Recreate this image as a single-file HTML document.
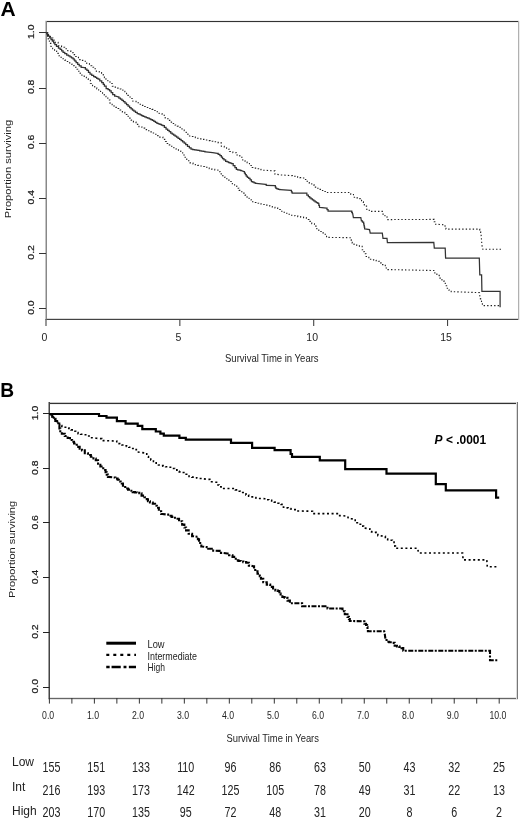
<!DOCTYPE html>
<html><head><meta charset="utf-8"><style>html,body{margin:0;padding:0;background:#fff;overflow:hidden}svg{display:block;will-change:transform}</style></head><body>
<svg width="520" height="820" viewBox="0 0 520 820">
<rect width="520" height="820" fill="#fff"/>
<text x="0.6" y="15.8" font-family='"Liberation Sans", sans-serif' font-weight="bold" font-size="21" fill="#000">A</text>
<rect x="45" y="21" width="474" height="1" fill="#333"/>
<rect x="45" y="20" width="474" height="1" fill="#f0f0f0"/>
<rect x="45" y="22" width="474" height="1" fill="#f0f0f0"/>
<rect x="45" y="319" width="474" height="1" fill="#444"/>
<rect x="45" y="318" width="474" height="1" fill="#d8d8d8"/>
<rect x="46" y="21" width="1" height="299" fill="#888"/>
<rect x="45" y="21" width="1" height="299" fill="#c4c4c4"/>
<rect x="518" y="21" width="1" height="299" fill="#b0b0b0"/>
<rect x="519" y="21" width="1" height="299" fill="#ececec"/>
<line x1="39" y1="308.5" x2="46" y2="308.5" stroke="#333" stroke-width="1"/>
<text transform="translate(34.0,307.60) rotate(-90) scale(1.04,0.97)" text-anchor="middle" font-family='"Liberation Sans", sans-serif' font-size="10" fill="#1e1e1e" stroke="#1e1e1e" stroke-width="0.25">0.0</text>
<line x1="39" y1="253.5" x2="46" y2="253.5" stroke="#333" stroke-width="1"/>
<text transform="translate(34.0,252.42) rotate(-90) scale(1.04,0.97)" text-anchor="middle" font-family='"Liberation Sans", sans-serif' font-size="10" fill="#1e1e1e" stroke="#1e1e1e" stroke-width="0.25">0.2</text>
<line x1="39" y1="198.5" x2="46" y2="198.5" stroke="#333" stroke-width="1"/>
<text transform="translate(34.0,197.24) rotate(-90) scale(1.04,0.97)" text-anchor="middle" font-family='"Liberation Sans", sans-serif' font-size="10" fill="#1e1e1e" stroke="#1e1e1e" stroke-width="0.25">0.4</text>
<line x1="39" y1="143.5" x2="46" y2="143.5" stroke="#333" stroke-width="1"/>
<text transform="translate(34.0,142.06) rotate(-90) scale(1.04,0.97)" text-anchor="middle" font-family='"Liberation Sans", sans-serif' font-size="10" fill="#1e1e1e" stroke="#1e1e1e" stroke-width="0.25">0.6</text>
<line x1="39" y1="88.5" x2="46" y2="88.5" stroke="#333" stroke-width="1"/>
<text transform="translate(34.0,86.88) rotate(-90) scale(1.04,0.97)" text-anchor="middle" font-family='"Liberation Sans", sans-serif' font-size="10" fill="#1e1e1e" stroke="#1e1e1e" stroke-width="0.25">0.8</text>
<line x1="39" y1="32.5" x2="46" y2="32.5" stroke="#333" stroke-width="1"/>
<text transform="translate(34.0,31.70) rotate(-90) scale(1.04,0.97)" text-anchor="middle" font-family='"Liberation Sans", sans-serif' font-size="10" fill="#1e1e1e" stroke="#1e1e1e" stroke-width="0.25">1.0</text>
<line x1="46.00" y1="319" x2="46.00" y2="326" stroke="#444" stroke-width="1.1"/>
<text x="44.50" y="341.3" text-anchor="middle" font-family='"Liberation Sans", sans-serif' font-size="10.5" fill="#1e1e1e">0</text>
<line x1="179.85" y1="319" x2="179.85" y2="326" stroke="#444" stroke-width="1.1"/>
<text x="178.35" y="341.3" text-anchor="middle" font-family='"Liberation Sans", sans-serif' font-size="10.5" fill="#1e1e1e">5</text>
<line x1="313.70" y1="319" x2="313.70" y2="326" stroke="#444" stroke-width="1.1"/>
<text x="312.20" y="341.3" text-anchor="middle" font-family='"Liberation Sans", sans-serif' font-size="10.5" fill="#1e1e1e">10</text>
<line x1="447.55" y1="319" x2="447.55" y2="326" stroke="#444" stroke-width="1.1"/>
<text x="446.05" y="341.3" text-anchor="middle" font-family='"Liberation Sans", sans-serif' font-size="10.5" fill="#1e1e1e">15</text>
<text x="271.8" y="362.4" text-anchor="middle" font-family='"Liberation Sans", sans-serif' font-size="11" fill="#1e1e1e" textLength="93.6" lengthAdjust="spacingAndGlyphs">Survival Time in Years</text>
<text transform="translate(11.3,169) rotate(-90)" text-anchor="middle" font-family='"Liberation Sans", sans-serif' font-size="9.8" fill="#1e1e1e" textLength="98.5" lengthAdjust="spacingAndGlyphs">Proportion surviving</text>
<polyline points="46.50,32.80 47.15,32.80 47.15,34.47 48.45,34.47 48.45,36.15 49.75,36.15 49.75,37.83 51.05,37.83 51.05,39.50 51.70,39.50 52.33,39.50 52.33,41.17 53.60,41.17 53.60,42.83 54.87,42.83 54.87,44.50 55.50,44.50 56.48,44.50 56.48,46.25 58.42,46.25 58.42,48.00 59.40,48.00 60.13,48.00 60.13,49.43 61.60,49.43 61.60,50.87 63.07,50.87 63.07,52.30 63.80,52.30 64.78,52.30 64.78,53.65 66.72,53.65 66.72,55.00 67.70,55.00 68.46,55.00 68.46,55.95 69.99,55.95 69.99,56.90 71.51,56.90 71.51,57.85 73.04,57.85 73.04,58.80 73.80,58.80 74.20,58.80 74.20,60.00 75.00,60.00 75.00,61.20 75.40,61.20 76.17,61.20 76.17,62.73 77.70,62.73 77.70,64.27 79.23,64.27 79.23,65.80 80.00,65.80 81.15,65.80 81.15,67.30 82.30,67.30 84.60,67.70 85.38,67.70 85.38,69.05 86.92,69.05 86.92,70.40 87.70,70.40 88.47,70.40 88.47,72.30 90.03,72.30 90.03,74.20 90.80,74.20 91.75,74.20 91.75,75.35 93.65,75.35 93.65,76.50 94.60,76.50 95.30,76.50 95.30,77.40 96.70,77.40 96.70,78.30 98.10,78.30 98.10,79.20 98.80,79.20 99.78,79.20 99.78,80.95 101.72,80.95 101.72,82.70 102.70,82.70 103.28,82.70 103.28,84.45 104.42,84.45 104.42,86.20 105.00,86.20 106.15,86.20 106.15,88.50 107.30,88.50 108.08,88.50 108.08,89.65 109.62,89.65 109.62,90.80 110.40,90.80 111.18,90.80 111.18,92.70 112.72,92.70 112.72,94.60 113.50,94.60 114.65,94.60 114.65,96.20 115.80,96.20 118.10,96.90 118.88,96.90 118.88,98.05 120.42,98.05 120.42,99.20 121.20,99.20 121.95,99.20 121.95,100.35 123.45,100.35 123.45,101.50 124.20,101.50 124.97,101.50 124.97,103.05 126.53,103.05 126.53,104.60 127.30,104.60 128.07,104.60 128.07,106.15 129.62,106.15 129.62,107.70 130.40,107.70 131.10,107.70 131.10,108.87 132.50,108.87 132.50,110.03 133.90,110.03 133.90,111.20 134.60,111.20 135.47,111.20 135.47,112.35 137.22,112.35 137.22,113.50 138.10,113.50 138.81,113.50 138.81,114.20 140.24,114.20 140.24,114.90 141.66,114.90 141.66,115.60 143.09,115.60 143.09,116.30 143.80,116.30 144.58,116.30 144.58,116.90 146.15,116.90 146.15,117.50 147.72,117.50 147.72,118.10 148.50,118.10 149.27,118.10 149.27,118.87 150.80,118.87 150.80,119.63 152.33,119.63 152.33,120.40 153.10,120.40 153.87,120.40 153.87,121.37 155.40,121.37 155.40,122.33 156.93,122.33 156.93,123.30 157.70,123.30 158.42,123.30 158.42,123.88 159.88,123.88 159.88,124.45 161.32,124.45 161.32,125.02 162.78,125.02 162.78,125.60 163.50,125.60 164.35,125.60 164.35,127.30 166.05,127.30 166.05,129.00 166.90,129.00 167.67,129.00 167.67,130.37 169.20,130.37 169.20,131.73 170.73,131.73 170.73,133.10 171.50,133.10 172.22,133.10 172.22,134.10 173.68,134.10 173.68,135.10 175.12,135.10 175.12,136.10 176.58,136.10 176.58,137.10 177.30,137.10 178.07,137.10 178.07,138.27 179.60,138.27 179.60,139.43 181.13,139.43 181.13,140.60 181.90,140.60 182.67,140.60 182.67,141.90 184.20,141.90 184.20,143.20 185.73,143.20 185.73,144.50 186.50,144.50 187.50,144.50 187.50,146.30 188.50,146.30 189.35,146.30 189.35,147.75 191.05,147.75 191.05,149.20 191.90,149.20 192.76,149.20 192.76,149.50 194.49,149.50 194.49,149.80 196.21,149.80 196.21,150.10 197.94,150.10 197.94,150.40 198.80,150.40 199.68,150.40 199.68,150.75 201.43,150.75 201.43,151.10 203.18,151.10 203.18,151.45 204.93,151.45 204.93,151.80 205.80,151.80 212.70,152.70 217.30,153.30 218.18,153.30 218.18,154.45 219.93,154.45 219.93,155.60 220.80,155.60 221.38,155.60 221.38,157.05 222.53,157.05 222.53,158.50 223.10,158.50 223.95,158.50 223.95,159.90 225.65,159.90 225.65,161.30 226.50,161.30 227.22,161.30 227.22,161.90 228.68,161.90 228.68,162.50 230.12,162.50 230.12,163.10 231.58,163.10 231.58,163.70 232.30,163.70 233.18,163.70 233.18,165.70 234.93,165.70 234.93,167.70 235.80,167.70 236.35,167.70 236.35,169.40 236.90,169.40 237.67,169.40 237.67,169.80 239.20,169.80 239.20,170.20 240.73,170.20 240.73,170.60 241.50,170.60 244.00,171.50 244.45,171.50 244.45,173.07 245.35,173.07 245.35,174.63 246.25,174.63 246.25,176.20 246.70,176.20 247.38,176.20 247.38,177.25 248.72,177.25 248.72,178.30 249.40,178.30 250.07,178.30 250.07,179.95 251.43,179.95 251.43,181.60 252.10,181.60 252.78,181.60 252.78,182.20 254.15,182.20 254.15,182.80 255.52,182.80 255.52,183.40 256.20,183.40 265.60,184.30 266.25,184.30 266.25,185.30 266.90,185.30 275.00,185.70 275.32,185.70 275.32,187.05 275.98,187.05 275.98,188.40 276.30,188.40 276.98,188.40 276.98,188.83 278.35,188.83 278.35,189.27 279.72,189.27 279.72,189.70 280.40,189.70 291.10,190.40 291.45,190.40 291.45,191.75 292.15,191.75 292.15,193.10 292.50,193.10 306.00,193.10 306.85,193.10 306.85,195.20 307.70,195.20 308.38,195.20 308.38,196.55 309.72,196.55 309.72,197.90 310.40,197.90 311.07,197.90 311.07,198.90 312.43,198.90 312.43,199.90 313.10,199.90 313.78,199.90 313.78,200.90 315.12,200.90 315.12,201.90 315.80,201.90 316.48,201.90 316.48,202.60 317.82,202.60 317.82,203.30 318.50,203.30 318.82,203.30 318.82,205.30 319.48,205.30 319.48,207.30 319.80,207.30 326.50,208.00 327.02,208.00 327.02,209.55 328.08,209.55 328.08,211.10 328.60,211.10 351.40,211.10 351.72,211.10 351.72,212.30 352.38,212.30 352.38,213.50 352.70,213.50 353.40,217.50 360.80,217.50 361.40,220.90 362.45,220.90 362.45,222.20 363.50,222.20 363.66,222.20 363.66,223.88 363.99,223.88 363.99,225.55 364.31,225.55 364.31,227.22 364.64,227.22 364.64,228.90 364.80,228.90 369.50,229.60 370.20,233.00 382.30,233.00 383.00,238.40 387.00,238.40 387.40,242.50 433.80,242.40 434.30,248.10 445.20,248.10 445.60,258.00 479.30,258.00 479.80,274.80 481.60,274.80 481.90,291.40 500.10,291.40 500.10,307.30" fill="none" stroke="#333" stroke-width="1.25"/>
<polyline points="46.50,32.80 47.80,32.80 47.80,35.40 50.40,35.40 50.40,38.00 51.70,38.00 52.85,38.00 52.85,40.10 55.15,40.10 55.15,42.20 56.30,42.20 58.15,42.20 58.15,45.80 60.00,45.80 61.55,45.80 61.55,47.30 64.65,47.30 64.65,48.80 66.20,48.80 67.72,48.80 67.72,50.75 70.78,50.75 70.78,52.70 72.30,52.70 73.45,52.70 73.45,54.60 75.75,54.60 75.75,56.50 76.90,56.50 78.45,56.50 78.45,59.60 80.00,59.60 81.35,59.60 81.35,60.40 84.05,60.40 84.05,61.20 85.40,61.20 86.75,61.20 86.75,63.50 89.45,63.50 89.45,65.80 90.80,65.80 91.75,65.80 91.75,67.30 93.65,67.30 93.65,68.80 94.60,68.80 96.35,68.80 96.35,71.50 98.10,71.50 99.25,71.50 99.25,72.65 101.55,72.65 101.55,73.80 102.70,73.80 103.28,73.80 103.28,75.75 104.42,75.75 104.42,77.70 105.00,77.70 105.95,77.70 105.95,79.25 107.85,79.25 107.85,80.80 108.80,80.80 109.97,80.80 109.97,83.50 112.33,83.50 112.33,86.20 113.50,86.20 114.65,86.20 114.65,87.15 116.95,87.15 116.95,88.10 118.10,88.10 119.05,88.10 119.05,89.05 120.95,89.05 120.95,90.00 121.90,90.00 122.88,90.00 122.88,91.35 124.83,91.35 124.83,92.70 125.80,92.70 126.55,92.70 126.55,95.40 127.30,95.40 128.28,95.40 128.28,96.95 130.22,96.95 130.22,98.50 131.20,98.50 132.90,98.50 132.90,101.30 134.60,101.30 136.05,101.30 136.05,102.75 138.95,102.75 138.95,104.20 140.40,104.20 141.85,104.20 141.85,105.35 144.75,105.35 144.75,106.50 146.20,106.50 147.35,106.50 147.35,107.47 149.65,107.47 149.65,108.43 151.95,108.43 151.95,109.40 153.10,109.40 154.25,109.40 154.25,110.55 156.55,110.55 156.55,111.70 157.70,111.70 159.15,111.70 159.15,113.45 162.05,113.45 162.05,115.20 163.50,115.20 165.20,115.20 165.20,118.70 166.90,118.70 168.05,118.70 168.05,120.40 170.35,120.40 170.35,122.10 171.50,122.10 172.68,122.10 172.68,123.55 175.02,123.55 175.02,125.00 176.20,125.00 177.35,125.00 177.35,126.15 179.65,126.15 179.65,127.30 180.80,127.30 181.95,127.30 181.95,129.05 184.25,129.05 184.25,130.80 185.40,130.80 186.20,132.50 187.90,132.50 187.90,136.00 189.60,136.00 190.75,136.00 190.75,136.57 193.05,136.57 193.05,137.13 195.35,137.13 195.35,137.70 196.50,137.70 197.67,137.70 197.67,138.27 200.00,138.27 200.00,138.83 202.33,138.83 202.33,139.40 203.50,139.40 204.83,139.40 204.83,140.00 207.50,140.00 207.50,140.60 210.17,140.60 210.17,141.20 211.50,141.20 212.85,141.20 212.85,141.77 215.55,141.77 215.55,142.33 218.25,142.33 218.25,142.90 219.60,142.90 221.35,142.90 221.35,146.30 223.10,146.30 224.25,146.30 224.25,147.75 226.55,147.75 226.55,149.20 227.70,149.20 229.45,149.20 229.45,151.50 231.20,151.50 232.90,151.50 232.90,152.70 234.60,152.70 236.35,152.70 236.35,155.00 238.10,155.00 239.80,155.00 239.80,157.30 241.50,157.30 242.75,157.30 242.75,160.80 244.00,160.80 245.03,160.80 245.03,162.15 247.07,162.15 247.07,163.50 248.10,163.50 249.45,163.50 249.45,165.50 252.15,165.50 252.15,167.50 253.50,167.50 254.50,167.50 254.50,168.15 256.50,168.15 256.50,168.80 257.50,168.80 258.62,168.80 258.62,169.27 260.85,169.27 260.85,169.73 263.08,169.73 263.08,170.20 264.20,170.20 273.60,170.90 274.95,170.90 274.95,174.20 276.30,174.20 280.40,174.90 291.10,175.60 292.45,175.60 292.45,176.25 295.15,176.25 295.15,176.90 296.50,176.90 297.63,176.90 297.63,177.27 299.90,177.27 299.90,177.63 302.17,177.63 302.17,178.00 303.30,178.00 304.65,178.00 304.65,179.50 306.00,179.50 307.10,179.50 307.10,181.30 309.30,181.30 309.30,183.10 310.40,183.10 311.75,183.10 311.75,185.10 314.45,185.10 314.45,187.10 315.80,187.10 316.92,187.10 316.92,188.23 319.15,188.23 319.15,189.37 321.38,189.37 321.38,190.50 322.50,190.50 323.85,190.50 323.85,191.50 326.55,191.50 326.55,192.50 327.90,192.50 349.40,192.50 350.75,192.50 350.75,194.50 352.10,194.50 353.45,194.50 353.45,197.20 354.80,197.20 356.15,197.20 356.15,197.90 358.85,197.90 358.85,198.60 360.20,198.60 361.55,198.60 361.55,201.90 362.90,201.90 363.38,201.90 363.38,204.00 364.32,204.00 364.32,206.10 364.80,206.10 366.55,206.10 366.55,209.30 368.30,209.30 369.25,209.30 369.25,211.40 370.20,211.40 382.30,211.40 382.95,211.40 382.95,214.10 383.60,214.10 384.95,214.10 384.95,216.80 386.30,216.80 387.00,216.80 387.00,219.60 387.70,219.60 433.80,219.40 434.15,219.40 434.15,221.80 434.85,221.80 434.85,224.20 435.20,224.20 444.60,224.80 445.05,224.80 445.05,226.95 445.95,226.95 445.95,229.10 446.40,229.10 479.30,229.10 479.75,229.10 479.75,231.85 480.65,231.85 480.65,234.60 481.10,234.60 481.90,245.00 482.80,249.30 501.20,249.30" fill="none" stroke="#222" stroke-width="1.1" stroke-dasharray="1.4 2.1"/>
<polyline points="46.50,32.80 46.85,32.80 46.85,35.30 47.55,35.30 47.55,37.80 48.25,37.80 48.25,40.30 48.60,40.30 49.38,40.30 49.38,43.40 50.93,43.40 50.93,46.50 51.70,46.50 52.65,46.50 52.65,48.75 54.55,48.75 54.55,51.00 55.50,51.00 56.62,51.00 56.62,53.40 58.88,53.40 58.88,55.80 60.00,55.80 60.95,55.80 60.95,57.30 62.85,57.30 62.85,58.80 63.80,58.80 64.78,58.80 64.78,60.15 66.72,60.15 66.72,61.50 67.70,61.50 68.65,61.50 68.65,62.85 70.55,62.85 70.55,64.20 71.50,64.20 72.47,64.20 72.47,65.75 74.43,65.75 74.43,67.30 75.40,67.30 76.18,67.30 76.18,69.25 77.72,69.25 77.72,71.20 78.50,71.20 79.08,71.20 79.08,73.10 80.22,73.10 80.22,75.00 80.80,75.00 81.95,75.00 81.95,76.15 84.25,76.15 84.25,77.30 85.40,77.30 86.35,77.30 86.35,78.85 88.25,78.85 88.25,80.40 89.20,80.40 90.35,80.40 90.35,83.50 91.50,83.50 92.58,83.50 92.58,85.60 94.72,85.60 94.72,87.70 95.80,87.70 96.75,87.70 96.75,88.85 98.65,88.85 98.65,90.00 99.60,90.00 100.57,90.00 100.57,91.55 102.53,91.55 102.53,93.10 103.50,93.10 104.25,93.10 104.25,96.20 105.00,96.20 105.95,96.20 105.95,98.10 107.85,98.10 107.85,100.00 108.80,100.00 110.00,100.00 110.00,103.10 111.20,103.10 112.15,103.10 112.15,104.65 114.05,104.65 114.05,106.20 115.00,106.20 115.95,106.20 115.95,107.35 117.85,107.35 117.85,108.50 118.80,108.50 120.00,108.50 120.00,110.00 121.20,110.00 122.40,110.00 122.40,112.25 124.80,112.25 124.80,114.50 126.00,114.50 127.00,114.50 127.00,116.30 129.00,116.30 129.00,118.10 130.00,118.10 131.15,118.10 131.15,120.10 133.45,120.10 133.45,122.10 134.60,122.10 136.05,122.10 136.05,124.40 138.95,124.40 138.95,126.70 140.40,126.70 141.85,126.70 141.85,128.15 144.75,128.15 144.75,129.60 146.20,129.60 147.35,129.60 147.35,130.75 149.65,130.75 149.65,131.90 150.80,131.90 151.95,131.90 151.95,133.05 154.25,133.05 154.25,134.20 155.40,134.20 156.85,134.20 156.85,135.65 159.75,135.65 159.75,137.10 161.20,137.10 162.90,137.10 162.90,139.40 164.60,139.40 165.47,139.40 165.47,141.45 167.22,141.45 167.22,143.50 168.10,143.50 169.25,143.50 169.25,144.90 171.55,144.90 171.55,146.30 172.70,146.30 173.85,146.30 173.85,147.75 176.15,147.75 176.15,149.20 177.30,149.20 178.45,149.20 178.45,150.95 180.75,150.95 180.75,152.70 181.90,152.70 182.68,152.70 182.68,155.00 184.22,155.00 184.22,157.30 185.00,157.30 186.75,157.30 186.75,160.80 188.50,160.80 190.20,160.80 190.20,163.10 191.90,163.10 193.05,163.10 193.05,163.95 195.35,163.95 195.35,164.80 196.50,164.80 197.67,164.80 197.67,165.37 200.00,165.37 200.00,165.93 202.33,165.93 202.33,166.50 203.50,166.50 204.65,166.50 204.65,167.27 206.95,167.27 206.95,168.03 209.25,168.03 209.25,168.80 210.40,168.80 211.85,168.80 211.85,169.40 214.75,169.40 214.75,170.00 216.20,170.00 217.90,170.00 217.90,171.70 219.60,171.70 220.18,171.70 220.18,173.75 221.32,173.75 221.32,175.80 221.90,175.80 223.05,175.80 223.05,177.25 225.35,177.25 225.35,178.70 226.50,178.70 227.68,178.70 227.68,180.10 230.02,180.10 230.02,181.50 231.20,181.50 232.35,181.50 232.35,183.80 233.50,183.80 234.58,183.80 234.58,186.00 236.75,186.00 236.75,188.20 238.92,188.20 238.92,190.40 240.00,190.40 241.00,190.40 241.00,191.75 243.00,191.75 243.00,193.10 244.00,193.10 245.03,193.10 245.03,195.10 247.07,195.10 247.07,197.10 248.10,197.10 249.10,197.10 249.10,199.45 251.10,199.45 251.10,201.80 252.10,201.80 253.45,201.80 253.45,202.50 256.15,202.50 256.15,203.20 257.50,203.20 258.62,203.20 258.62,203.63 260.85,203.63 260.85,204.07 263.08,204.07 263.08,204.50 264.20,204.50 265.33,204.50 265.33,205.17 267.60,205.17 267.60,205.83 269.87,205.83 269.87,206.50 271.00,206.50 272.32,206.50 272.32,207.20 274.98,207.20 274.98,207.90 276.30,207.90 277.65,207.90 277.65,209.55 280.35,209.55 280.35,211.20 281.70,211.20 282.88,211.20 282.88,212.22 285.23,212.22 285.23,213.25 287.57,213.25 287.57,214.28 289.93,214.28 289.93,215.30 291.10,215.30 292.45,215.30 292.45,215.73 295.15,215.73 295.15,216.17 297.85,216.17 297.85,216.60 299.20,216.60 300.65,216.60 300.65,217.10 303.55,217.10 303.55,217.60 305.00,217.60 306.35,217.60 306.35,219.50 309.05,219.50 309.05,221.40 310.40,221.40 311.75,221.40 311.75,223.75 314.45,223.75 314.45,226.10 315.80,226.10 316.80,226.10 316.80,228.80 318.80,228.80 318.80,231.50 319.80,231.50 321.15,231.50 321.15,232.85 323.85,232.85 323.85,234.20 325.20,234.20 326.55,234.20 326.55,237.40 327.90,237.40 350.80,237.70 351.27,237.70 351.27,240.40 352.23,240.40 352.23,243.10 352.70,243.10 354.05,243.10 354.05,245.10 355.40,245.10 356.75,245.10 356.75,245.75 359.45,245.75 359.45,246.40 360.80,246.40 362.15,246.40 362.15,249.80 363.50,249.80 363.82,249.80 363.82,251.80 364.48,251.80 364.48,253.80 364.80,253.80 366.15,253.80 366.15,256.50 367.50,256.50 368.85,256.50 368.85,259.20 370.20,259.20 371.38,259.20 371.38,259.70 373.73,259.70 373.73,260.20 376.07,260.20 376.07,260.70 378.43,260.70 378.43,261.20 379.60,261.20 380.60,261.20 380.60,262.90 382.60,262.90 382.60,264.60 383.60,264.60 385.30,264.60 385.30,268.00 387.00,268.00 388.00,268.00 388.00,269.60 389.00,269.60 433.80,270.50 434.82,270.50 434.82,272.95 436.88,272.95 436.88,275.40 437.90,275.40 439.25,275.40 439.25,278.10 441.95,278.10 441.95,280.80 443.30,280.80 443.97,280.80 443.97,283.30 445.30,283.30 445.30,285.80 446.63,285.80 446.63,288.30 447.30,288.30 448.60,288.30 448.60,290.00 451.20,290.00 451.20,291.70 452.50,291.70 479.30,292.60 480.20,298.60 480.63,298.60 480.63,300.93 481.50,300.93 481.50,303.27 482.37,303.27 482.37,305.60 482.80,305.60 499.80,305.60" fill="none" stroke="#222" stroke-width="1.1" stroke-dasharray="1.4 2.1"/>
<text x="0" y="0" transform="translate(0.3,396.7) scale(0.96,1.05)" font-family='"Liberation Sans", sans-serif' font-weight="bold" font-size="20" fill="#000">B</text>
<rect x="48" y="403" width="470" height="1" fill="#333"/>
<rect x="48" y="402" width="470" height="1" fill="#c8c8c8"/>
<rect x="48" y="404" width="470" height="1" fill="#f0f0f0"/>
<rect x="48" y="698" width="470" height="1" fill="#666"/>
<rect x="48" y="697" width="470" height="1" fill="#e4e4e4"/>
<rect x="48" y="699" width="470" height="1" fill="#e4e4e4"/>
<rect x="49" y="402" width="1" height="297" fill="#444"/>
<rect x="48" y="402" width="1" height="297" fill="#a0a0a0"/>
<rect x="517" y="402" width="1" height="297" fill="#777"/>
<rect x="516" y="402" width="1" height="297" fill="#dcdcdc"/>
<line x1="43" y1="687.5" x2="49.5" y2="687.5" stroke="#222" stroke-width="1"/>
<text transform="translate(37.7,686.30) rotate(-90) scale(1.04,0.97)" text-anchor="middle" font-family='"Liberation Sans", sans-serif' font-size="10" fill="#1e1e1e" stroke="#1e1e1e" stroke-width="0.25">0.0</text>
<line x1="43" y1="632.5" x2="49.5" y2="632.5" stroke="#222" stroke-width="1"/>
<text transform="translate(37.7,631.64) rotate(-90) scale(1.04,0.97)" text-anchor="middle" font-family='"Liberation Sans", sans-serif' font-size="10" fill="#1e1e1e" stroke="#1e1e1e" stroke-width="0.25">0.2</text>
<line x1="43" y1="577.5" x2="49.5" y2="577.5" stroke="#222" stroke-width="1"/>
<text transform="translate(37.7,576.98) rotate(-90) scale(1.04,0.97)" text-anchor="middle" font-family='"Liberation Sans", sans-serif' font-size="10" fill="#1e1e1e" stroke="#1e1e1e" stroke-width="0.25">0.4</text>
<line x1="43" y1="522.5" x2="49.5" y2="522.5" stroke="#222" stroke-width="1"/>
<text transform="translate(37.7,522.32) rotate(-90) scale(1.04,0.97)" text-anchor="middle" font-family='"Liberation Sans", sans-serif' font-size="10" fill="#1e1e1e" stroke="#1e1e1e" stroke-width="0.25">0.6</text>
<line x1="43" y1="468.5" x2="49.5" y2="468.5" stroke="#222" stroke-width="1"/>
<text transform="translate(37.7,467.66) rotate(-90) scale(1.04,0.97)" text-anchor="middle" font-family='"Liberation Sans", sans-serif' font-size="10" fill="#1e1e1e" stroke="#1e1e1e" stroke-width="0.25">0.8</text>
<line x1="43" y1="413.5" x2="49.5" y2="413.5" stroke="#222" stroke-width="1"/>
<text transform="translate(37.7,413.00) rotate(-90) scale(1.04,0.97)" text-anchor="middle" font-family='"Liberation Sans", sans-serif' font-size="10" fill="#1e1e1e" stroke="#1e1e1e" stroke-width="0.25">1.0</text>
<line x1="49.40" y1="698" x2="49.40" y2="703.6" stroke="#333" stroke-width="1"/>
<text x="48.10" y="719.5" text-anchor="middle" font-family='"Liberation Sans", sans-serif' font-size="10" fill="#1e1e1e" transform="translate(48.10,0) scale(0.87,1) translate(-48.10,0)">0.0</text>
<line x1="71.89" y1="698" x2="71.89" y2="703.6" stroke="#333" stroke-width="1"/>
<line x1="94.38" y1="698" x2="94.38" y2="703.6" stroke="#333" stroke-width="1"/>
<text x="93.08" y="719.5" text-anchor="middle" font-family='"Liberation Sans", sans-serif' font-size="10" fill="#1e1e1e" transform="translate(93.08,0) scale(0.87,1) translate(-93.08,0)">1.0</text>
<line x1="116.87" y1="698" x2="116.87" y2="703.6" stroke="#333" stroke-width="1"/>
<line x1="139.36" y1="698" x2="139.36" y2="703.6" stroke="#333" stroke-width="1"/>
<text x="138.06" y="719.5" text-anchor="middle" font-family='"Liberation Sans", sans-serif' font-size="10" fill="#1e1e1e" transform="translate(138.06,0) scale(0.87,1) translate(-138.06,0)">2.0</text>
<line x1="161.85" y1="698" x2="161.85" y2="703.6" stroke="#333" stroke-width="1"/>
<line x1="184.34" y1="698" x2="184.34" y2="703.6" stroke="#333" stroke-width="1"/>
<text x="183.04" y="719.5" text-anchor="middle" font-family='"Liberation Sans", sans-serif' font-size="10" fill="#1e1e1e" transform="translate(183.04,0) scale(0.87,1) translate(-183.04,0)">3.0</text>
<line x1="206.83" y1="698" x2="206.83" y2="703.6" stroke="#333" stroke-width="1"/>
<line x1="229.32" y1="698" x2="229.32" y2="703.6" stroke="#333" stroke-width="1"/>
<text x="228.02" y="719.5" text-anchor="middle" font-family='"Liberation Sans", sans-serif' font-size="10" fill="#1e1e1e" transform="translate(228.02,0) scale(0.87,1) translate(-228.02,0)">4.0</text>
<line x1="251.81" y1="698" x2="251.81" y2="703.6" stroke="#333" stroke-width="1"/>
<line x1="274.30" y1="698" x2="274.30" y2="703.6" stroke="#333" stroke-width="1"/>
<text x="273.00" y="719.5" text-anchor="middle" font-family='"Liberation Sans", sans-serif' font-size="10" fill="#1e1e1e" transform="translate(273.00,0) scale(0.87,1) translate(-273.00,0)">5.0</text>
<line x1="296.79" y1="698" x2="296.79" y2="703.6" stroke="#333" stroke-width="1"/>
<line x1="319.28" y1="698" x2="319.28" y2="703.6" stroke="#333" stroke-width="1"/>
<text x="317.98" y="719.5" text-anchor="middle" font-family='"Liberation Sans", sans-serif' font-size="10" fill="#1e1e1e" transform="translate(317.98,0) scale(0.87,1) translate(-317.98,0)">6.0</text>
<line x1="341.77" y1="698" x2="341.77" y2="703.6" stroke="#333" stroke-width="1"/>
<line x1="364.26" y1="698" x2="364.26" y2="703.6" stroke="#333" stroke-width="1"/>
<text x="362.96" y="719.5" text-anchor="middle" font-family='"Liberation Sans", sans-serif' font-size="10" fill="#1e1e1e" transform="translate(362.96,0) scale(0.87,1) translate(-362.96,0)">7.0</text>
<line x1="386.75" y1="698" x2="386.75" y2="703.6" stroke="#333" stroke-width="1"/>
<line x1="409.24" y1="698" x2="409.24" y2="703.6" stroke="#333" stroke-width="1"/>
<text x="407.94" y="719.5" text-anchor="middle" font-family='"Liberation Sans", sans-serif' font-size="10" fill="#1e1e1e" transform="translate(407.94,0) scale(0.87,1) translate(-407.94,0)">8.0</text>
<line x1="431.73" y1="698" x2="431.73" y2="703.6" stroke="#333" stroke-width="1"/>
<line x1="454.22" y1="698" x2="454.22" y2="703.6" stroke="#333" stroke-width="1"/>
<text x="452.92" y="719.5" text-anchor="middle" font-family='"Liberation Sans", sans-serif' font-size="10" fill="#1e1e1e" transform="translate(452.92,0) scale(0.87,1) translate(-452.92,0)">9.0</text>
<line x1="476.71" y1="698" x2="476.71" y2="703.6" stroke="#333" stroke-width="1"/>
<line x1="499.20" y1="698" x2="499.20" y2="703.6" stroke="#333" stroke-width="1"/>
<text x="497.90" y="719.5" text-anchor="middle" font-family='"Liberation Sans", sans-serif' font-size="10" fill="#1e1e1e" transform="translate(497.90,0) scale(0.87,1) translate(-497.90,0)">10.0</text>
<text x="272.7" y="741.5" text-anchor="middle" font-family='"Liberation Sans", sans-serif' font-size="11" fill="#1e1e1e" textLength="92.5" lengthAdjust="spacingAndGlyphs">Survival Time in Years</text>
<text transform="translate(15.1,549.5) rotate(-90)" text-anchor="middle" font-family='"Liberation Sans", sans-serif' font-size="9.8" fill="#1e1e1e" textLength="97.2" lengthAdjust="spacingAndGlyphs">Proportion surviving</text>
<text x="434.6" y="443.8" font-family='"Liberation Sans", sans-serif' font-weight="bold" font-size="12" fill="#000" textLength="51.6" lengthAdjust="spacingAndGlyphs"><tspan font-style="italic">P</tspan> &lt; .0001</text>
<polyline points="49.60,414.00 99.00,414.00 99.00,416.00 106.50,416.00 106.50,417.70 116.90,417.70 116.90,421.20 125.60,421.20 125.60,423.70 137.70,423.70 137.70,425.80 142.30,425.80 142.30,429.20 155.80,429.20 155.80,431.50 160.40,431.50 160.40,433.60 163.80,433.60 163.80,435.60 179.40,435.60 179.40,437.90 185.80,437.90 185.80,439.70 231.00,439.70 231.00,442.90 252.10,442.90 252.10,447.90 274.60,447.90 274.60,450.20 290.60,450.20 290.60,454.00 292.00,454.00 292.00,456.90 319.80,456.90 319.80,460.40 345.20,460.40 345.20,469.20 386.50,469.20 386.50,473.60 435.80,473.60 435.80,484.20 445.80,484.20 445.80,490.40 496.10,490.40 496.10,497.60 499.20,497.60" fill="none" stroke="#000" stroke-width="2.2"/>
<polyline points="49.60,414.00 51.50,414.60 52.35,414.60 52.35,416.90 54.05,416.90 54.05,419.20 54.90,419.20 55.77,419.20 55.77,421.25 57.52,421.25 57.52,423.30 58.40,423.30 59.55,423.30 59.55,425.60 60.70,425.60 61.85,425.60 61.85,426.45 64.15,426.45 64.15,427.30 65.30,427.30 66.45,427.30 66.45,427.90 68.75,427.90 68.75,428.50 69.90,428.50 71.05,428.50 71.05,429.90 73.35,429.90 73.35,431.30 74.50,431.30 75.67,431.30 75.67,432.50 78.03,432.50 78.03,433.70 79.20,433.70 80.62,433.70 80.62,434.25 83.48,434.25 83.48,434.80 84.90,434.80 86.65,434.80 86.65,436.00 88.40,436.00 90.10,436.00 90.10,437.70 91.80,437.70 96.50,438.30 100.00,438.60 101.75,438.60 101.75,440.60 103.50,440.60 115.00,441.00 116.75,441.00 116.75,443.60 118.50,443.60 119.65,443.60 119.65,444.30 121.95,444.30 121.95,445.00 123.10,445.00 124.25,445.00 124.25,445.77 126.55,445.77 126.55,446.53 128.85,446.53 128.85,447.30 130.00,447.30 131.45,447.30 131.45,448.45 134.35,448.45 134.35,449.60 135.80,449.60 136.35,449.60 136.35,451.90 136.90,451.90 141.50,452.50 146.20,453.10 146.75,453.10 146.75,456.50 147.30,456.50 148.45,456.50 148.45,458.25 150.75,458.25 150.75,460.00 151.90,460.00 153.45,460.00 153.45,461.50 155.00,461.50 156.15,461.50 156.15,463.25 158.45,463.25 158.45,465.00 159.60,465.00 160.75,465.00 160.75,465.60 163.05,465.60 163.05,466.20 164.20,466.20 165.65,466.20 165.65,466.75 168.55,466.75 168.55,467.30 170.00,467.30 171.75,467.30 171.75,468.50 173.50,468.50 174.65,468.50 174.65,469.90 176.95,469.90 176.95,471.30 178.10,471.30 179.25,471.30 179.25,471.90 181.55,471.90 181.55,472.50 182.70,472.50 183.85,472.50 183.85,473.35 186.15,473.35 186.15,474.20 187.30,474.20 189.05,474.20 189.05,476.50 190.80,476.50 191.95,476.50 191.95,477.10 194.25,477.10 194.25,477.70 195.40,477.70 196.75,477.70 196.75,478.07 199.45,478.07 199.45,478.43 202.15,478.43 202.15,478.80 203.50,478.80 208.10,479.40 209.80,479.40 209.80,481.70 211.50,481.70 215.00,482.30 216.55,482.30 216.55,485.00 218.10,485.00 219.10,485.00 219.10,486.75 221.10,486.75 221.10,488.50 222.10,488.50 234.20,488.50 235.35,488.50 235.35,489.90 237.65,489.90 237.65,491.30 238.80,491.30 240.25,491.30 240.25,492.50 243.15,492.50 243.15,493.70 244.60,493.70 245.95,493.70 245.95,495.00 248.65,495.00 248.65,496.30 250.00,496.30 251.15,496.30 251.15,496.90 253.45,496.90 253.45,497.50 254.60,497.50 255.75,497.50 255.75,498.00 258.05,498.00 258.05,498.50 259.20,498.50 265.00,498.70 266.15,498.70 266.15,499.80 267.30,499.80 268.75,499.80 268.75,500.40 271.65,500.40 271.65,501.00 273.10,501.00 274.25,501.00 274.25,502.15 276.55,502.15 276.55,503.30 277.70,503.30 278.85,503.30 278.85,503.85 281.15,503.85 281.15,504.40 282.30,504.40 283.45,504.40 283.45,507.30 284.60,507.30 285.75,507.30 285.75,507.90 288.05,507.90 288.05,508.50 289.20,508.50 290.65,508.50 290.65,509.05 293.55,509.05 293.55,509.60 295.00,509.60 296.75,509.60 296.75,511.00 298.50,511.00 311.90,511.20 312.50,511.20 312.50,513.60 313.10,513.60 338.50,513.60 339.65,513.60 339.65,515.60 340.80,515.60 347.70,516.20 348.30,518.50 354.60,519.00 355.20,519.00 355.20,521.30 355.80,521.30 356.95,521.30 356.95,522.75 359.25,522.75 359.25,524.20 360.40,524.20 361.45,524.20 361.45,526.15 363.55,526.15 363.55,528.10 364.60,528.10 369.20,528.70 369.80,528.70 369.80,531.50 370.40,531.50 371.55,531.50 371.55,531.90 373.85,531.90 373.85,532.30 376.15,532.30 376.15,532.70 377.30,532.70 377.90,532.70 377.90,535.60 378.50,535.60 384.20,536.20 385.35,536.20 385.35,539.00 386.50,539.00 387.67,539.00 387.67,539.60 390.00,539.60 390.00,540.20 392.33,540.20 392.33,540.80 393.50,540.80 394.05,540.80 394.05,544.20 394.60,544.20 394.90,544.20 394.90,546.25 395.50,546.25 395.50,548.30 395.80,548.30 417.70,548.30 418.50,553.00 462.60,553.00 463.10,559.90 486.80,559.90 487.30,566.80 497.20,566.80" fill="none" stroke="#000" stroke-width="1.6" stroke-dasharray="2 2.6"/>
<polyline points="49.60,414.00 51.50,414.60 52.27,414.60 52.27,416.73 53.80,416.73 53.80,418.87 55.33,418.87 55.33,421.00 56.10,421.00 56.83,421.00 56.83,423.30 58.27,423.30 58.27,425.60 59.00,425.60 59.42,425.60 59.42,428.45 60.28,428.45 60.28,431.30 60.70,431.30 61.85,431.30 61.85,433.70 63.00,433.70 64.75,433.70 64.75,436.00 66.50,436.00 67.65,436.00 67.65,438.00 69.95,438.00 69.95,440.00 71.10,440.00 72.07,440.00 72.07,441.75 74.03,441.75 74.03,443.50 75.00,443.50 76.75,443.50 76.75,446.90 78.50,446.90 79.65,446.90 79.65,448.65 81.95,448.65 81.95,450.40 83.10,450.40 84.80,450.40 84.80,453.30 86.50,453.30 87.95,453.30 87.95,455.00 90.85,455.00 90.85,456.70 92.30,456.70 93.45,456.70 93.45,458.45 95.75,458.45 95.75,460.20 96.90,460.20 98.05,460.20 98.05,463.70 99.20,463.70 100.35,463.70 100.35,466.50 101.50,466.50 103.25,466.50 103.25,470.00 105.00,470.00 105.58,470.00 105.58,472.30 106.72,472.30 106.72,474.60 107.30,474.60 107.90,474.60 107.90,476.90 108.50,476.90 114.20,477.50 115.35,477.50 115.35,478.65 117.65,478.65 117.65,479.80 118.80,479.80 120.00,479.80 120.00,481.50 121.20,481.50 121.78,481.50 121.78,483.55 122.92,483.55 122.92,485.60 123.50,485.60 125.20,485.60 125.20,488.50 126.90,488.50 128.05,488.50 128.05,489.65 130.35,489.65 130.35,490.80 131.50,490.80 132.65,490.80 132.65,492.10 133.80,492.10 134.90,492.10 134.90,492.50 137.10,492.50 137.10,492.90 139.30,492.90 139.30,493.30 140.40,493.30 141.55,493.30 141.55,495.60 142.70,495.60 144.45,495.60 144.45,497.30 146.20,497.30 146.77,497.30 146.77,499.30 147.93,499.30 147.93,501.30 148.50,501.30 149.93,501.30 149.93,502.50 152.77,502.50 152.77,503.70 154.20,503.70 155.07,503.70 155.07,505.70 156.82,505.70 156.82,507.70 157.70,507.70 158.85,507.70 158.85,511.20 160.00,511.20 161.15,511.20 161.15,514.00 162.30,514.00 168.10,514.60 169.25,514.60 169.25,515.75 171.55,515.75 171.55,516.90 172.70,516.90 173.85,516.90 173.85,517.80 176.15,517.80 176.15,518.70 177.30,518.70 179.05,518.70 179.05,521.20 180.80,521.20 182.15,521.20 182.15,524.60 183.50,524.60 184.35,524.60 184.35,527.50 186.05,527.50 186.05,530.40 186.90,530.40 188.65,530.40 188.65,533.80 190.40,533.80 192.10,533.80 192.10,536.20 193.80,536.20 197.30,536.70 197.88,536.70 197.88,539.30 199.03,539.30 199.03,541.90 199.60,541.90 200.18,541.90 200.18,544.20 201.32,544.20 201.32,546.50 201.90,546.50 206.50,547.10 208.25,547.10 208.25,548.80 210.00,548.80 211.75,548.80 211.75,550.60 213.50,550.60 219.20,550.90 220.95,550.90 220.95,552.90 222.70,552.90 227.30,553.50 229.05,553.50 229.05,555.20 230.80,555.20 232.50,555.20 232.50,556.90 234.20,556.90 235.75,556.90 235.75,560.40 237.30,560.40 238.45,560.40 238.45,560.95 240.75,560.95 240.75,561.50 241.90,561.50 243.35,561.50 243.35,562.10 246.25,562.10 246.25,562.70 247.70,562.70 248.85,562.70 248.85,565.60 250.00,565.60 253.50,566.20 254.07,566.20 254.07,568.75 255.23,568.75 255.23,571.30 255.80,571.30 257.50,571.30 257.50,573.70 259.20,573.70 259.77,573.70 259.77,576.25 260.93,576.25 260.93,578.80 261.50,578.80 263.25,578.80 263.25,582.30 265.00,582.30 266.75,582.30 266.75,584.60 268.50,584.60 270.20,584.60 270.20,586.90 271.90,586.90 273.05,586.90 273.05,589.80 274.20,589.80 275.35,589.80 275.35,590.40 277.65,590.40 277.65,591.00 278.80,591.00 279.40,591.00 279.40,593.60 280.60,593.60 280.60,596.20 281.20,596.20 282.35,596.20 282.35,597.05 284.65,597.05 284.65,597.90 285.80,597.90 287.50,597.90 287.50,600.60 289.20,600.60 289.90,600.60 289.90,603.30 290.60,603.30 301.50,603.30 302.10,603.30 302.10,606.20 302.70,606.20 326.90,606.20 327.50,606.20 327.50,608.50 328.10,608.50 341.90,608.50 342.50,608.50 342.50,611.30 343.10,611.30 344.80,611.30 344.80,614.20 346.50,614.20 347.50,614.20 347.50,616.90 348.50,616.90 348.93,616.90 348.93,618.95 349.77,618.95 349.77,621.00 350.20,621.00 363.50,621.30 364.35,621.30 364.35,623.80 365.20,623.80 366.05,623.80 366.05,625.00 366.90,625.00 367.10,625.00 367.10,627.10 367.50,627.10 367.50,629.20 367.90,629.20 367.90,631.30 368.10,631.30 384.20,631.30 384.80,634.20 385.40,638.80 386.55,638.80 386.55,641.70 387.70,641.70 389.15,641.70 389.15,642.30 392.05,642.30 392.05,642.90 393.50,642.90 394.65,642.90 394.65,645.80 395.80,645.80 396.95,645.80 396.95,646.35 399.25,646.35 399.25,646.90 400.40,646.90 401.55,646.90 401.55,648.10 402.70,648.10 403.25,648.10 403.25,650.80 403.80,650.80 490.00,650.80 490.00,660.30 498.20,660.30" fill="none" stroke="#000" stroke-width="2.1" stroke-dasharray="5 1.5 2 1.5"/>
<line x1="106.3" y1="643.2" x2="136" y2="643.2" stroke="#000" stroke-width="3"/>
<line x1="106.3" y1="654.8" x2="136" y2="654.8" stroke="#000" stroke-width="2.2" stroke-dasharray="3 4"/>
<line x1="106.25" y1="667" x2="136" y2="667" stroke="#000" stroke-width="2.6" stroke-dasharray="3.4 1.9 9.2 2.8 2.9 2.4 20 0"/>
<text x="147.5" y="647.6" font-family='"Liberation Sans", sans-serif' font-size="10.5" fill="#222" textLength="17" lengthAdjust="spacingAndGlyphs">Low</text>
<text x="147.5" y="660" font-family='"Liberation Sans", sans-serif' font-size="10.5" fill="#222" textLength="49.5" lengthAdjust="spacingAndGlyphs">Intermediate</text>
<text x="147.5" y="671.4" font-family='"Liberation Sans", sans-serif' font-size="10.5" fill="#222" textLength="17.5" lengthAdjust="spacingAndGlyphs">High</text>
<text x="12" y="766.3" font-family='"Liberation Sans", sans-serif' font-size="12" fill="#222">Low</text>
<text x="51.50" y="772" text-anchor="middle" font-family='"Liberation Sans", sans-serif' font-size="14.3" fill="#222" transform="translate(51.50,0) scale(0.75,1) translate(-51.50,0)">155</text>
<text x="96.25" y="772" text-anchor="middle" font-family='"Liberation Sans", sans-serif' font-size="14.3" fill="#222" transform="translate(96.25,0) scale(0.75,1) translate(-96.25,0)">151</text>
<text x="141.00" y="772" text-anchor="middle" font-family='"Liberation Sans", sans-serif' font-size="14.3" fill="#222" transform="translate(141.00,0) scale(0.75,1) translate(-141.00,0)">133</text>
<text x="185.75" y="772" text-anchor="middle" font-family='"Liberation Sans", sans-serif' font-size="14.3" fill="#222" transform="translate(185.75,0) scale(0.75,1) translate(-185.75,0)">110</text>
<text x="230.50" y="772" text-anchor="middle" font-family='"Liberation Sans", sans-serif' font-size="14.3" fill="#222" transform="translate(230.50,0) scale(0.75,1) translate(-230.50,0)">96</text>
<text x="275.25" y="772" text-anchor="middle" font-family='"Liberation Sans", sans-serif' font-size="14.3" fill="#222" transform="translate(275.25,0) scale(0.75,1) translate(-275.25,0)">86</text>
<text x="320.00" y="772" text-anchor="middle" font-family='"Liberation Sans", sans-serif' font-size="14.3" fill="#222" transform="translate(320.00,0) scale(0.75,1) translate(-320.00,0)">63</text>
<text x="364.75" y="772" text-anchor="middle" font-family='"Liberation Sans", sans-serif' font-size="14.3" fill="#222" transform="translate(364.75,0) scale(0.75,1) translate(-364.75,0)">50</text>
<text x="409.50" y="772" text-anchor="middle" font-family='"Liberation Sans", sans-serif' font-size="14.3" fill="#222" transform="translate(409.50,0) scale(0.75,1) translate(-409.50,0)">43</text>
<text x="454.25" y="772" text-anchor="middle" font-family='"Liberation Sans", sans-serif' font-size="14.3" fill="#222" transform="translate(454.25,0) scale(0.75,1) translate(-454.25,0)">32</text>
<text x="499.00" y="772" text-anchor="middle" font-family='"Liberation Sans", sans-serif' font-size="14.3" fill="#222" transform="translate(499.00,0) scale(0.75,1) translate(-499.00,0)">25</text>
<text x="12" y="790.8" font-family='"Liberation Sans", sans-serif' font-size="12" fill="#222">Int</text>
<text x="51.50" y="795" text-anchor="middle" font-family='"Liberation Sans", sans-serif' font-size="14.3" fill="#222" transform="translate(51.50,0) scale(0.75,1) translate(-51.50,0)">216</text>
<text x="96.25" y="795" text-anchor="middle" font-family='"Liberation Sans", sans-serif' font-size="14.3" fill="#222" transform="translate(96.25,0) scale(0.75,1) translate(-96.25,0)">193</text>
<text x="141.00" y="795" text-anchor="middle" font-family='"Liberation Sans", sans-serif' font-size="14.3" fill="#222" transform="translate(141.00,0) scale(0.75,1) translate(-141.00,0)">173</text>
<text x="185.75" y="795" text-anchor="middle" font-family='"Liberation Sans", sans-serif' font-size="14.3" fill="#222" transform="translate(185.75,0) scale(0.75,1) translate(-185.75,0)">142</text>
<text x="230.50" y="795" text-anchor="middle" font-family='"Liberation Sans", sans-serif' font-size="14.3" fill="#222" transform="translate(230.50,0) scale(0.75,1) translate(-230.50,0)">125</text>
<text x="275.25" y="795" text-anchor="middle" font-family='"Liberation Sans", sans-serif' font-size="14.3" fill="#222" transform="translate(275.25,0) scale(0.75,1) translate(-275.25,0)">105</text>
<text x="320.00" y="795" text-anchor="middle" font-family='"Liberation Sans", sans-serif' font-size="14.3" fill="#222" transform="translate(320.00,0) scale(0.75,1) translate(-320.00,0)">78</text>
<text x="364.75" y="795" text-anchor="middle" font-family='"Liberation Sans", sans-serif' font-size="14.3" fill="#222" transform="translate(364.75,0) scale(0.75,1) translate(-364.75,0)">49</text>
<text x="409.50" y="795" text-anchor="middle" font-family='"Liberation Sans", sans-serif' font-size="14.3" fill="#222" transform="translate(409.50,0) scale(0.75,1) translate(-409.50,0)">31</text>
<text x="454.25" y="795" text-anchor="middle" font-family='"Liberation Sans", sans-serif' font-size="14.3" fill="#222" transform="translate(454.25,0) scale(0.75,1) translate(-454.25,0)">22</text>
<text x="499.00" y="795" text-anchor="middle" font-family='"Liberation Sans", sans-serif' font-size="14.3" fill="#222" transform="translate(499.00,0) scale(0.75,1) translate(-499.00,0)">13</text>
<text x="12" y="815" font-family='"Liberation Sans", sans-serif' font-size="12" fill="#222">High</text>
<text x="51.50" y="817" text-anchor="middle" font-family='"Liberation Sans", sans-serif' font-size="14.3" fill="#222" transform="translate(51.50,0) scale(0.75,1) translate(-51.50,0)">203</text>
<text x="96.25" y="817" text-anchor="middle" font-family='"Liberation Sans", sans-serif' font-size="14.3" fill="#222" transform="translate(96.25,0) scale(0.75,1) translate(-96.25,0)">170</text>
<text x="141.00" y="817" text-anchor="middle" font-family='"Liberation Sans", sans-serif' font-size="14.3" fill="#222" transform="translate(141.00,0) scale(0.75,1) translate(-141.00,0)">135</text>
<text x="185.75" y="817" text-anchor="middle" font-family='"Liberation Sans", sans-serif' font-size="14.3" fill="#222" transform="translate(185.75,0) scale(0.75,1) translate(-185.75,0)">95</text>
<text x="230.50" y="817" text-anchor="middle" font-family='"Liberation Sans", sans-serif' font-size="14.3" fill="#222" transform="translate(230.50,0) scale(0.75,1) translate(-230.50,0)">72</text>
<text x="275.25" y="817" text-anchor="middle" font-family='"Liberation Sans", sans-serif' font-size="14.3" fill="#222" transform="translate(275.25,0) scale(0.75,1) translate(-275.25,0)">48</text>
<text x="320.00" y="817" text-anchor="middle" font-family='"Liberation Sans", sans-serif' font-size="14.3" fill="#222" transform="translate(320.00,0) scale(0.75,1) translate(-320.00,0)">31</text>
<text x="364.75" y="817" text-anchor="middle" font-family='"Liberation Sans", sans-serif' font-size="14.3" fill="#222" transform="translate(364.75,0) scale(0.75,1) translate(-364.75,0)">20</text>
<text x="409.50" y="817" text-anchor="middle" font-family='"Liberation Sans", sans-serif' font-size="14.3" fill="#222" transform="translate(409.50,0) scale(0.75,1) translate(-409.50,0)">8</text>
<text x="454.25" y="817" text-anchor="middle" font-family='"Liberation Sans", sans-serif' font-size="14.3" fill="#222" transform="translate(454.25,0) scale(0.75,1) translate(-454.25,0)">6</text>
<text x="499.00" y="817" text-anchor="middle" font-family='"Liberation Sans", sans-serif' font-size="14.3" fill="#222" transform="translate(499.00,0) scale(0.75,1) translate(-499.00,0)">2</text>
</svg>
</body></html>
